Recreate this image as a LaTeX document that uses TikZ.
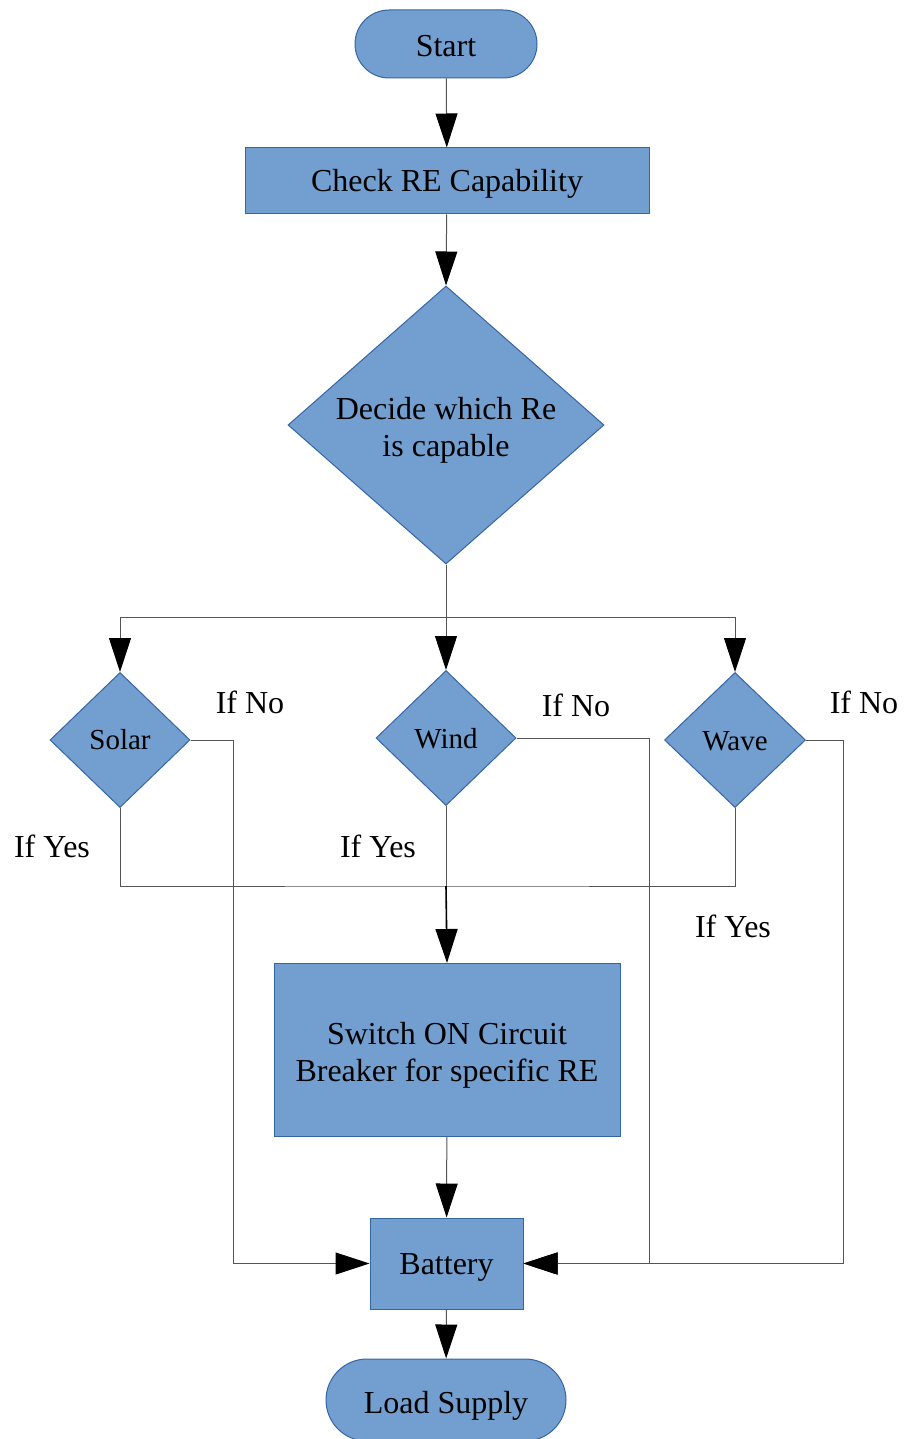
\documentclass[tikz,border=0pt]{standalone}
\usepackage{fontspec}
\setmainfont{Liberation Serif}
\usetikzlibrary{arrows.meta,shapes.geometric}
\definecolor{boxfill}{HTML}{729FCF}
\definecolor{boxline}{HTML}{3465A4}
\definecolor{wire}{HTML}{555555}
\tikzset{
  base/.style={fill=boxfill,draw=boxline,line width=1pt,inner sep=0pt,
    font=\fontsize{32}{37}\selectfont,align=center},
  oneline/.style={text height=21pt,text depth=0pt},
  lowline/.style={text height=26pt,text depth=0pt},
  procbox/.style={base,rectangle},
  termbox/.style={base,rectangle},
  decbox/.style={base,diamond},
  caption/.style={inner sep=0pt,font=\fontsize{32}{37}\selectfont,align=center},
  smallcap/.style={inner sep=0pt,font=\fontsize{29}{34}\selectfont},
  link/.style={draw=wire,line width=1pt},
  flow/.style={link,-{Triangle[length=34pt,width=22pt,fill=black,color=black]}},
}
\begin{document}
\begin{tikzpicture}[x=1pt,y=-1pt]
\clip (0,0) rectangle (906,1439);
\fill[white] (0,0) rectangle (906,1439);

% terminals and process boxes
\node[termbox,lowline,minimum width=182pt,minimum height=68pt,rounded corners=34pt] (start) at (446,44) {Start};
\node[procbox,oneline,minimum width=404pt,minimum height=66pt] (check) at (447,181) {Check RE Capability};
\node[decbox,minimum width=316pt,minimum height=278pt] (decide) at (446,425) {};
\node[caption] (decidetxt) at (446,430) {Decide which Re\\ is capable};

% the three sources
\node[decbox,minimum width=140pt,minimum height=135pt] (solar) at (120,740) {};
\node[smallcap] (solartxt) at (120,740) {Solar};
\node[decbox,minimum width=140pt,minimum height=135pt] (wind) at (446,738) {};
\node[smallcap] (windtxt) at (446,739) {Wind};
\node[decbox,minimum width=141pt,minimum height=135pt] (wave) at (735,740) {};
\node[smallcap] (wavetxt) at (735,741) {Wave};

\node[procbox,minimum width=346pt,minimum height=173pt] (switch) at (447,1050) {};
\node[caption] (switchtxt) at (447,1055) {Switch ON Circuit\\ Breaker for specific RE};
\node[procbox,oneline,minimum width=153pt,minimum height=91pt] (battery) at (446.5,1263.5) {Battery};
\node[termbox,lowline,minimum width=240pt,minimum height=82pt,rounded corners=41pt] (load) at (446,1400) {Load Supply};

% branch labels
\node[caption] (no1) at (250,702) {If No};
\node[caption] (no2) at (576,705) {If No};
\node[caption] (no3) at (864,702) {If No};
\node[caption] (yes1) at (52,846) {If Yes};
\node[caption] (yes2) at (378,846) {If Yes};
\node[caption] (yes3) at (733,926) {If Yes};

% routing points
\coordinate (split) at (446,617);
\coordinate (yesbus) at (446,886);
\coordinate (solarno) at (233,740);
\coordinate (windno) at (649,738);
\coordinate (waveno) at (843,740);

% connectors
\draw[flow] (start) -- (check);
\draw[flow] (check) -- (decide.north);
\draw[link] (decide.south) -- (split);
\draw[flow] (split) -| (solar.north);
\draw[flow] (split) -- (wind.north);
\draw[flow] (split) -| (wave.north);

\draw[link] (solar.south) |- (yesbus) -| (wave.south);
\draw[link] (wind.south) -- (yesbus);
\draw[flow,draw=black,line width=1.6pt] (yesbus) -- (switch.north);

\draw[flow] (solar.east) -- (solarno) |- (battery.west);
\draw[flow] (wind.east) -- (windno) |- (battery.east);
\draw[flow] (wave.east) -- (waveno) |- (battery.east);

\draw[flow] (switch) -- (battery);
\draw[flow] (battery) -- (load);
\end{tikzpicture}
\end{document}
